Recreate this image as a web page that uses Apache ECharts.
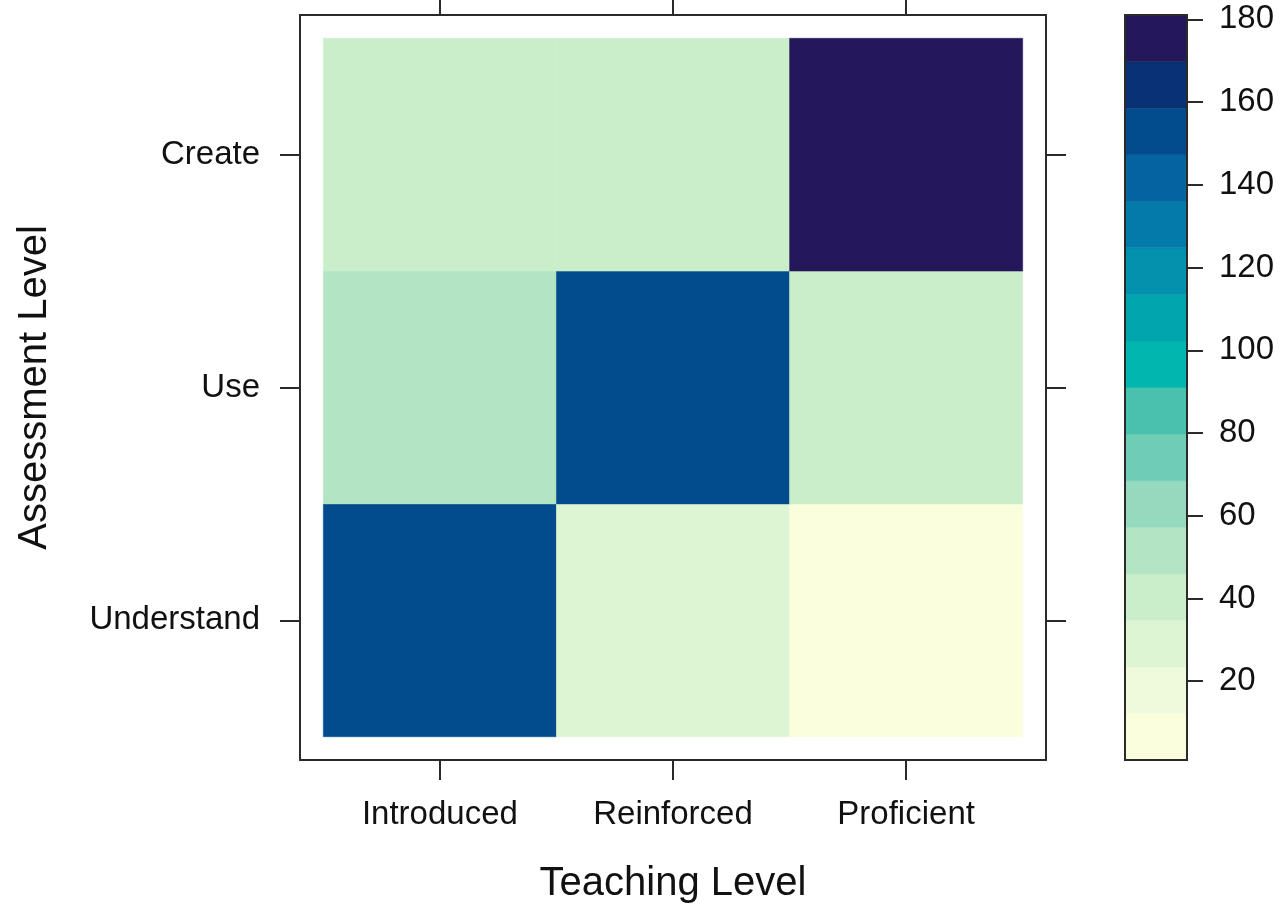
<!DOCTYPE html>
<html><head><meta charset="utf-8">
<script src="https://cdn.jsdelivr.net/npm/echarts@6/dist/echarts.min.js"></script>
<style>html,body{margin:0;padding:0;background:#fff}#c{width:1282px;height:909px}</style>
</head><body><div id="c"></div>
<script>
// ---- data ----
const teachingLevels = ['Introduced', 'Reinforced', 'Proficient'];
const assessmentLevels = ['Understand', 'Use', 'Create'];
// values per assessment level, ordered by teaching level
const understandRow = [152, 30, 12];
const useRow = [52, 152, 38];
const createRow = [40, 40, 170];
const colorbarTicks = [20, 40, 60, 80, 100, 120, 140, 160, 180];
// 16 colour regions, lowest to highest
const palette = ['#FAFEDC', '#EFFADA', '#DEF5D4', '#CBEECA', '#B3E4C4', '#95D9BF', '#6FCDB6', '#48C1AE',
                 '#00B6AE', '#00A5AE', '#0391AD', '#047AAA', '#0563A1', '#024B8D', '#083273', '#24185A'];

// ---- build ----
const rows = [understandRow, useRow, createRow];
const cells = [];
rows.forEach((r, yi) => r.forEach((v, xi) => cells.push([xi, yi, v])));
const allVals = cells.map(c => c[2]);
const zmin = Math.min(...allVals), zmax = Math.max(...allVals);
const pad = 0.07 * (zmax - zmin);
const lo = zmin - pad, hi = zmax + pad;
const nb = palette.length;
const breaks = [];
for (let i = 0; i <= nb; i++) breaks.push(lo + (hi - lo) * i / nb);
const bins = [];
for (let i = 0; i < nb; i++) bins.push([breaks[i], breaks[i + 1], i]);
function colorOf(v) {
  let k = Math.floor((v - lo) / (hi - lo) * nb);
  k = Math.max(0, Math.min(nb - 1, k));
  return palette[k];
}

const FONT = "'Liberation Sans', Arial, Helvetica, sans-serif";
const lineStyle = { color: '#2a2a2a', width: 2 };
const tickStyle = { color: '#2a2a2a', width: 2 };
function mainAxis(kind, position, showLabel, names) {
  const ax = {
    type: 'value', gridIndex: 0, position: position, min: -0.6, max: 2.6, z: 10,
    axisLine: { show: true, onZero: false, lineStyle: lineStyle },
    axisTick: { show: true, length: 20, lineStyle: tickStyle, customValues: [0, 1, 2] },
    axisLabel: {
      show: showLabel, customValues: [0, 1, 2], fontSize: 33, fontFamily: FONT, color: '#111',
      margin: kind === 'x' ? 38 : 40,
      padding: kind === 'x' ? 0 : [4, 0, 0, 0],
      formatter: v => names[Math.round(v)] || ''
    },
    splitLine: { show: false }
  };
  return ax;
}
const xMain = mainAxis('x', 'bottom', true, teachingLevels);
xMain.name = 'Teaching Level'; xMain.nameLocation = 'middle'; xMain.nameGap = 104;
xMain.nameTextStyle = { fontSize: 40, fontFamily: FONT, color: '#111' };
const yMain = mainAxis('y', 'left', true, assessmentLevels);
yMain.name = 'Assessment Level'; yMain.nameLocation = 'middle'; yMain.nameGap = 245;
yMain.nameTextStyle = { fontSize: 40, fontFamily: FONT, color: '#111' };

const option = {
  backgroundColor: '#fff',
  animation: false,
  grid: [
    { left: 300, top: 15, width: 746, height: 745 },
    { left: 1125, top: 15, width: 62, height: 745 }
  ],
  xAxis: [
    xMain,
    mainAxis('x', 'top', false, teachingLevels),
    { type: 'value', gridIndex: 1, min: 0, max: 1, position: 'bottom', z: 10,
      axisLine: { show: true, onZero: false, lineStyle: lineStyle }, axisTick: { show: false },
      axisLabel: { show: false }, splitLine: { show: false } },
    { type: 'value', gridIndex: 1, min: 0, max: 1, position: 'top', z: 10,
      axisLine: { show: true, onZero: false, lineStyle: lineStyle }, axisTick: { show: false },
      axisLabel: { show: false }, splitLine: { show: false } }
  ],
  yAxis: [
    yMain,
    mainAxis('y', 'right', false, assessmentLevels),
    { type: 'value', gridIndex: 1, min: lo, max: hi, position: 'right', z: 10,
      axisLine: { show: true, onZero: false, lineStyle: lineStyle },
      axisTick: { show: true, length: 16, lineStyle: tickStyle, customValues: colorbarTicks },
      axisLabel: { show: true, customValues: colorbarTicks, fontSize: 33, fontFamily: FONT, color: '#111', margin: 32,
                   padding: [3, 0, 0, 0] },
      splitLine: { show: false } },
    { type: 'value', gridIndex: 1, min: lo, max: hi, position: 'left', z: 10,
      axisLine: { show: true, onZero: false, lineStyle: lineStyle }, axisTick: { show: false },
      axisLabel: { show: false }, splitLine: { show: false } }
  ],
  series: [
    {
      type: 'custom', xAxisIndex: 0, yAxisIndex: 0, data: cells, z: 2,
      renderItem: function (params, api) {
        const x = api.value(0), y = api.value(1), v = api.value(2);
        const p0 = api.coord([x - 0.5, y + 0.5]);
        const p1 = api.coord([x + 0.5, y - 0.5]);
        return { type: 'rect', shape: { x: p0[0], y: p0[1], width: p1[0] - p0[0], height: p1[1] - p0[1] },
                 style: { fill: colorOf(v), stroke: colorOf(v), lineWidth: 0.5 } };
      }
    },
    {
      type: 'custom', xAxisIndex: 2, yAxisIndex: 2, data: bins, z: 2,
      renderItem: function (params, api) {
        const a = api.value(0), b = api.value(1), k = api.value(2);
        const p0 = api.coord([0, b]);
        const p1 = api.coord([1, a]);
        return { type: 'rect', shape: { x: p0[0], y: p0[1], width: p1[0] - p0[0], height: p1[1] - p0[1] },
                 style: { fill: palette[k], stroke: palette[k], lineWidth: 0.5 } };
      }
    }
  ]
};
const chart = echarts.init(document.getElementById('c'), null, { renderer: 'canvas' });
chart.setOption(option);
</script></body></html>
